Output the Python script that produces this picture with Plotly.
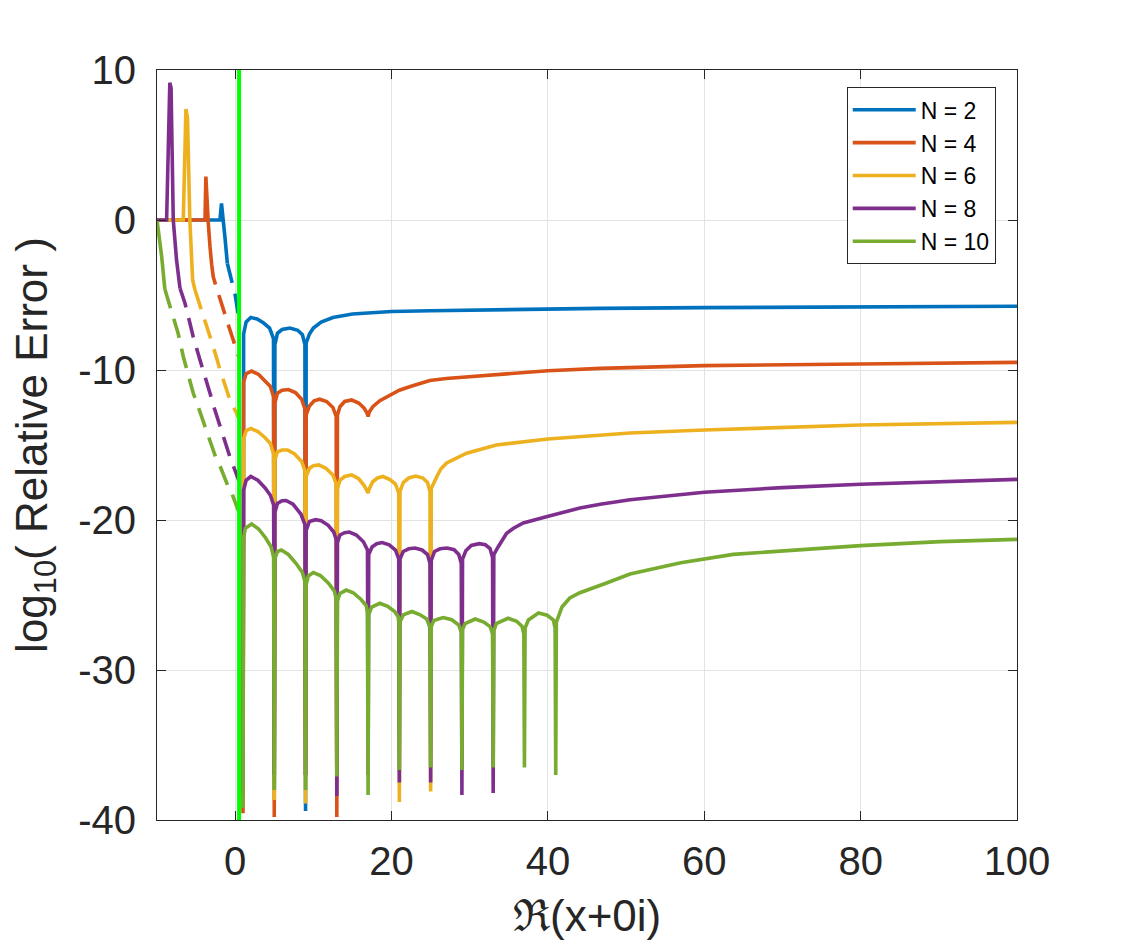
import plotly.graph_objects as go

# MATLAB default colour order
colors = ["#0072BD", "#D95319", "#EDB120", "#7E2F8E", "#77AC30"]
names = ["N = 2", "N = 4", "N = 6", "N = 8", "N = 10"]

x_ticks = [0, 20, 40, 60, 80, 100]
y_ticks = [-40, -30, -20, -10, 0, 10]
boundary_x = 0.5

# ---- points: (Re x, log10 relative error) ----
# left solid part (x < 0), dashed part, right solid part (x > 0)
n2_left = [(-10, 0), (-1.95, 0), (-1.75, 1.1), (-1.55, -0.2), (-1.3, -1.2), (-1.0, -2.9)]
n2_dash = [(-1.0, -2.9), (-0.6, -3.7), (0.0, -5.0), (0.3, -6.0), (0.5, -6.8)]
n2_right = [
    (1.0, -38.5), (1.08, -7.6), (1.4, -6.8), (2.0, -6.5), (2.8, -6.6), (3.6, -6.85), (4.4, -7.2), (4.9, -7.9), (5.0, -38.0),
    (5.08, -8.3), (5.4, -7.55), (6.0, -7.3), (7.0, -7.2), (8.0, -7.35), (8.6, -7.65), (8.92, -8.3), (9.0, -39.4),
    (9.08, -8.2), (9.5, -7.6), (10.0, -7.2), (11.0, -6.8), (12.5, -6.5), (15.0, -6.27), (20.0, -6.1), (25.0, -6.05),
    (30.0, -6.0), (40.0, -5.93), (46.7, -5.89), (60.0, -5.84), (80.0, -5.8), (100.0, -5.75),
]

n4_left = [(-10, 0), (-3.86, 0), (-3.75, 2.9), (-3.55, 0.3), (-3.44, -0.2), (-3.22, -1.8), (-3.0, -3.0)]
n4_dash = [(-3.0, -3.0), (-2.8, -3.8), (-2.4, -4.5), (-2.0, -5.2), (-1.5, -6.0), (-1.0, -6.8), (-0.5, -7.6),
           (0.0, -8.4), (0.5, -9.2)]
n4_right = [
    (1.0, -39.55), (1.08, -10.8), (1.4, -10.25), (2.1, -10.07), (3.0, -10.3), (3.8, -10.7), (4.5, -11.1), (4.92, -11.8), (5.0, -39.8),
    (5.08, -12.2), (5.4, -11.55), (6.0, -11.35), (6.8, -11.3), (7.7, -11.5), (8.5, -11.95), (8.92, -12.6), (9.0, -37.0),
    (9.08, -13.0), (9.5, -12.4), (10.1, -12.05), (10.8, -11.95), (11.7, -12.1), (12.5, -12.5), (12.92, -13.1), (13.0, -39.8),
    (13.08, -13.0), (13.4, -12.45), (14.0, -12.1), (14.9, -12.0), (15.8, -12.2), (16.5, -12.55), (16.85, -12.85), (17.0, -13.1),
    (17.15, -12.8), (17.6, -12.45), (18.5, -12.05), (19.8, -11.67), (21.0, -11.35), (22.4, -11.1), (24.9, -10.7),
    (27.0, -10.57), (30.0, -10.45), (40.0, -10.05), (46.7, -9.89), (60.0, -9.71), (80.0, -9.6), (100.0, -9.49),
]

n6_left = [(-10, 0), (-6.64, 0), (-6.3, 7.4), (-6.1, 6.8), (-5.8, 0), (-5.57, -2.67), (-5.44, -4.0), (-5.14, -4.67)]
n6_dash = [(-5.14, -4.67), (-4.5, -5.67), (-3.65, -7.0), (-3.2, -7.8), (-2.37, -9.2), (-1.94, -10.0),
           (-1.09, -11.33), (-0.67, -12.0), (0.2, -12.9), (0.5, -13.3)]
n6_right = [
    (1.0, -38.0), (1.08, -14.6), (1.4, -14.05), (2.0, -13.9), (2.9, -14.1), (3.8, -14.5), (4.5, -14.9), (4.92, -15.6), (5.0, -38.67),
    (5.08, -16.0), (5.4, -15.45), (6.0, -15.33), (6.7, -15.33), (7.6, -15.6), (8.5, -16.1), (8.92, -16.7), (9.0, -38.9),
    (9.08, -17.1), (9.5, -16.55), (10.0, -16.38), (10.7, -16.33), (11.6, -16.55), (12.5, -17.0), (12.92, -17.6), (13.0, -37.0),
    (13.08, -17.9), (13.4, -17.35), (14.0, -17.1), (14.9, -17.0), (15.8, -17.25), (16.5, -17.7), (16.88, -18.0), (17.0, -18.2),
    (17.12, -17.95), (17.6, -17.45), (18.2, -17.2), (18.9, -17.1), (19.8, -17.3), (20.5, -17.6), (20.92, -18.2), (21.0, -38.8),
    (21.08, -18.1), (21.5, -17.5), (22.2, -17.2), (23.1, -17.07), (24.0, -17.2), (24.6, -17.5), (24.92, -18.1), (25.0, -38.1),
    (25.08, -17.9), (25.4, -17.5), (25.8, -17.1), (26.3, -16.6), (27.05, -16.2), (29.6, -15.55), (33.4, -15.0),
    (40.0, -14.6), (46.7, -14.35), (50.5, -14.2), (60.0, -14.0), (80.0, -13.67), (100.0, -13.49),
]

n8_left = [(-10, 0), (-8.77, 0), (-8.36, 9.15), (-8.2, 8.8), (-7.92, 0), (-7.5, -2.67), (-7.06, -4.55)]
n8_dash = [(-7.06, -4.55), (-6.42, -5.55), (-5.78, -6.9), (-5.36, -7.8), (-4.5, -9.33), (-4.08, -10.0),
           (-3.22, -11.55), (-2.8, -12.33), (-1.94, -13.8), (-1.5, -14.4), (-0.67, -15.8), (0.5, -17.4)]
n8_right = [
    (1.0, -38.0), (1.08, -18.0), (1.4, -17.35), (2.0, -17.1), (2.9, -17.35), (3.8, -17.85), (4.5, -18.35), (4.92, -19.0), (5.0, -37.0),
    (5.08, -19.5), (5.4, -18.9), (6.0, -18.72), (6.5, -18.7), (7.4, -18.95), (8.4, -19.6), (8.92, -20.3), (9.0, -37.0),
    (9.08, -20.7), (9.5, -20.1), (10.3, -19.98), (11.0, -20.05), (11.9, -20.35), (12.6, -20.8), (12.92, -21.3), (13.0, -38.4),
    (13.08, -21.5), (13.4, -21.0), (14.0, -20.85), (14.6, -20.8), (15.5, -21.0), (16.4, -21.45), (16.92, -22.0), (17.0, -37.0),
    (17.08, -22.3), (17.5, -21.8), (18.1, -21.58), (18.8, -21.5), (19.7, -21.65), (20.5, -22.0), (20.92, -22.6), (21.0, -37.5),
    (21.08, -22.6), (21.5, -22.1), (22.2, -21.92), (23.0, -21.87), (23.9, -22.0), (24.6, -22.3), (24.92, -22.9), (25.0, -37.5),
    (25.08, -22.7), (25.5, -22.1), (26.2, -21.92), (27.1, -21.87), (28.0, -21.98), (28.6, -22.3), (28.92, -22.9), (29.0, -38.33),
    (29.08, -22.6), (29.5, -22.05), (30.2, -21.7), (31.2, -21.58), (32.0, -21.65), (32.6, -21.9), (32.92, -22.5), (33.0, -38.2),
    (33.08, -22.3), (33.65, -21.78), (34.7, -20.9), (35.6, -20.55), (36.85, -20.2), (39.8, -19.78), (44.1, -19.2),
    (46.7, -18.95), (50.5, -18.65), (60.0, -18.15), (70.0, -17.84), (80.0, -17.62), (100.0, -17.29),
]

n10_left = [(-10, 0), (-9.7, -1.1), (-9.4, -2.45), (-9.0, -4.6)]
n10_dash = [(-9.0, -4.6), (-8.6, -5.3), (-7.7, -6.9), (-7.3, -7.55), (-6.64, -9.1), (-6.2, -10.0), (-5.36, -11.55),
            (-4.9, -12.2), (-3.86, -13.8), (-3.4, -14.4), (-2.37, -16.0), (-1.94, -16.4), (-0.88, -17.8),
            (-0.45, -18.2), (0.2, -19.1), (0.5, -19.5)]
n10_right = [
    (1.0, -39.2), (1.08, -21.2), (1.3, -20.55), (2.1, -20.27), (3.0, -20.6), (3.9, -21.2), (4.6, -21.8), (4.92, -22.5), (5.0, -38.0),
    (5.08, -22.6), (5.4, -22.1), (5.9, -22.0), (6.8, -22.3), (7.8, -22.9), (8.6, -23.5), (8.92, -24.1), (9.0, -38.0),
    (9.08, -24.3), (9.35, -23.73), (10.0, -23.5), (10.9, -23.7), (11.9, -24.2), (12.7, -24.75), (12.92, -25.3), (13.0, -37.1),
    (13.08, -25.4), (13.4, -24.9), (14.2, -24.67), (15.1, -24.85), (16.1, -25.3), (16.75, -25.7), (16.92, -26.2), (17.0, -38.33),
    (17.08, -26.3), (17.46, -25.8), (18.5, -25.55), (19.5, -25.75), (20.4, -26.1), (20.85, -26.45), (20.94, -26.9), (21.0, -36.67),
    (21.08, -26.8), (21.5, -26.33), (22.6, -26.1), (23.6, -26.3), (24.5, -26.6), (24.92, -27.2), (25.0, -36.5),
    (25.08, -27.1), (25.4, -26.7), (26.6, -26.5), (27.7, -26.65), (28.6, -27.0), (28.92, -27.5), (29.0, -36.67),
    (29.08, -27.3), (29.4, -26.9), (30.7, -26.6), (31.8, -26.8), (32.6, -27.1), (32.92, -27.6), (33.0, -36.5),
    (33.08, -27.4), (33.4, -26.9), (34.9, -26.55), (36.0, -26.75), (36.7, -27.1), (36.92, -27.6), (37.0, -36.5),
    (37.08, -27.2), (37.5, -26.67), (38.8, -26.2), (39.9, -26.35), (40.7, -26.67), (40.92, -27.2), (41.0, -37.0),
    (41.08, -26.8), (41.8, -25.8), (42.8, -25.2), (44.1, -24.85), (47.5, -24.2), (50.5, -23.6), (57.0, -22.85),
    (63.7, -22.29), (80.0, -21.71), (90.2, -21.44), (100.0, -21.29),
]

series = [
    (n2_left, n2_dash, n2_right),
    (n4_left, n4_dash, n4_right),
    (n6_left, n6_dash, n6_right),
    (n8_left, n8_dash, n8_right),
    (n10_left, n10_dash, n10_right),
]

font = "Liberation Sans, Arial, sans-serif"
fig = go.Figure()

for name, color, (left, dash, right) in zip(names, colors, series):
    for pts, style, show in [(left, "solid", True), (dash, "20px,11px", False), (right, "solid", False)]:
        xs, ys = zip(*pts)
        fig.add_trace(go.Scatter(
            x=list(xs), y=list(ys), mode="lines", name=name, legendgroup=name,
            showlegend=show, line=dict(color=color, width=3.6, dash=style),
        ))

# bright green marker of Re(x) = 0.5
fig.add_trace(go.Scatter(
    x=[boundary_x, boundary_x], y=[y_ticks[0], y_ticks[-1]], mode="lines",
    line=dict(color="#00FF00", width=4), showlegend=False,
))

axis_style = dict(
    ticks="inside", ticklen=9, tickwidth=1, tickcolor="#262626",
    showline=True, linecolor="#262626", linewidth=1, mirror="ticks",
    showgrid=True, gridcolor="#e3e3e3", gridwidth=1, zeroline=False,
    tickfont=dict(family=font, size=40, color="#262626"),
)
fig.update_xaxes(range=[-10, 100], tickvals=x_ticks, ticktext=[str(v) for v in x_ticks],
                 ticklabelstandoff=6, **axis_style)
fig.update_yaxes(range=[-40, 10], tickvals=y_ticks, ticktext=[str(v) for v in y_ticks],
                 ticklabelstandoff=12, **axis_style)

# page body adds an 8 px offset, so the figure is 8 px smaller each way
fig.update_layout(
    width=1117, height=937,
    margin=dict(l=149, r=108, t=62, b=125),
    paper_bgcolor="white", plot_bgcolor="white",
    font=dict(family=font, color="#262626"),
    legend=dict(
        x=0.802, y=0.977, xanchor="left", yanchor="top",
        bgcolor="white", bordercolor="#262626", borderwidth=1,
        tracegroupgap=0, itemwidth=63,
        font=dict(family=font, size=23, color="black"),
    ),
    annotations=[
        dict(text="log<sub>10</sub>( Relative Error )", xref="paper", yref="paper",
             x=-0.142, y=0.5, textangle=-90, showarrow=False,
             xanchor="center", yanchor="middle", font=dict(size=44, color="#262626")),
        dict(text="ℜ(x+0i)", xref="paper", yref="paper",
             x=0.5, y=-0.127, showarrow=False,
             xanchor="center", yanchor="middle", font=dict(size=44, color="#262626")),
    ],
)

fig.write_html("out.html")
